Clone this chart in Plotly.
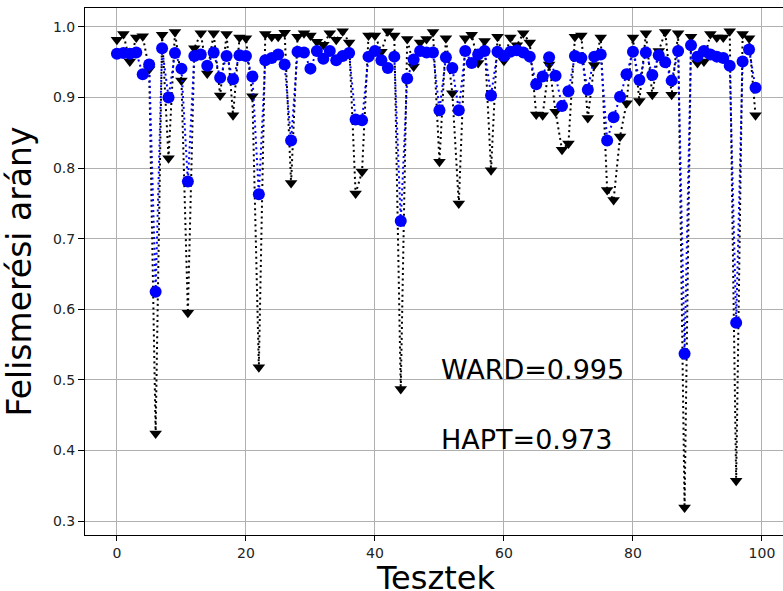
import plotly.graph_objects as go

tests = list(range(100))

hapt = [0.962, 0.963, 0.962, 0.964, 0.933, 0.947, 0.625, 0.970, 0.900, 0.963,
        0.941, 0.781, 0.959, 0.961, 0.945, 0.964, 0.928, 0.959, 0.926, 0.960,
        0.959, 0.930, 0.763, 0.953, 0.956, 0.961, 0.947, 0.839, 0.965, 0.964,
        0.941, 0.966, 0.955, 0.966, 0.953, 0.959, 0.963, 0.869, 0.868, 0.958,
        0.966, 0.953, 0.942, 0.958, 0.725, 0.927, 0.954, 0.966, 0.964, 0.964,
        0.882, 0.957, 0.942, 0.882, 0.966, 0.949, 0.961, 0.966, 0.903, 0.965,
        0.959, 0.965, 0.967, 0.964, 0.958, 0.919, 0.930, 0.957, 0.931, 0.888,
        0.909, 0.959, 0.956, 0.911, 0.958, 0.961, 0.839, 0.872, 0.901, 0.933,
        0.965, 0.925, 0.964, 0.932, 0.960, 0.950, 0.924, 0.966, 0.537, 0.974,
        0.958, 0.966, 0.961, 0.958, 0.956, 0.945, 0.581, 0.951, 0.968, 0.914]

ward = [0.982, 0.990, 0.951, 0.985, 0.987, 0.940, 0.424, 0.989, 0.814, 0.993,
        0.924, 0.595, 0.970, 0.991, 0.934, 0.991, 0.903, 0.990, 0.875, 0.985,
        0.984, 0.902, 0.518, 0.990, 0.986, 0.986, 0.992, 0.779, 0.986, 0.991,
        0.988, 0.979, 0.975, 0.991, 0.982, 0.994, 0.978, 0.764, 0.795, 0.988,
        0.988, 0.965, 0.994, 0.988, 0.487, 0.983, 0.944, 0.978, 0.983, 0.993,
        0.809, 0.984, 0.906, 0.750, 0.984, 0.989, 0.949, 0.980, 0.797, 0.986,
        0.952, 0.985, 0.974, 0.991, 0.978, 0.876, 0.875, 0.947, 0.880, 0.826,
        0.835, 0.986, 0.988, 0.871, 0.946, 0.985, 0.769, 0.755, 0.845, 0.892,
        0.985, 0.895, 0.991, 0.904, 0.966, 0.993, 0.904, 0.991, 0.319, 0.986,
        0.949, 0.951, 0.990, 0.985, 0.985, 0.994, 0.357, 0.990, 0.984, 0.875]

labels = ["WARD=0.995", "HAPT=0.973"]
label_x = [50, 50]
label_y = [0.5, 0.4]

x_ticks = [0, 20, 40, 60, 80, 100]
y_ticks = [0.3, 0.4, 0.5, 0.6, 0.7, 0.8, 0.9, 1.0]

x_title = "Tesztek"
y_title = "Felismerési arány"

FONT = "DejaVu Sans"

fig = go.Figure()
fig.add_trace(go.Scatter(
    x=tests, y=ward, mode="lines+markers",
    line=dict(color="black", width=2, dash="2px,3.4px"),
    marker=dict(symbol="triangle-down", size=11, color="black"),
    showlegend=False))
fig.add_trace(go.Scatter(
    x=tests, y=hapt, mode="lines+markers",
    line=dict(color="blue", width=2, dash="2px,3.4px"),
    marker=dict(symbol="circle", size=12, color="blue"),
    showlegend=False))

for t, xx, yy in zip(labels, label_x, label_y):
    fig.add_annotation(x=xx, y=yy, text=t, showarrow=False,
                       xanchor="left", yanchor="bottom", yshift=-7,
                       font=dict(family=FONT, size=27, color="black"))

# x-axis title placed as a text annotation for exact vertical position
fig.add_annotation(x=0.503, y=0, xref="paper", yref="paper", text=x_title,
                   showarrow=False, xanchor="center", yanchor="top", yshift=-22,
                   font=dict(family=FONT, size=32, color="black"))

fig.update_layout(
    width=783, height=591,
    margin=dict(l=85, r=0, t=8, b=56),
    paper_bgcolor="white", plot_bgcolor="white",
    font=dict(family=FONT, color="black"),
)
fig.update_xaxes(
    range=[-4.95, 103.26], tickvals=x_ticks,
    showgrid=True, gridcolor="#b0b0b0", gridwidth=1,
    showline=True, linecolor="black", linewidth=1, mirror=True,
    ticks="outside", ticklen=5, tickcolor="black",
    tickfont=dict(family=FONT, size=14, color="#222"),
    zeroline=False,
)
fig.update_yaxes(
    range=[0.2802, 1.0269], tickvals=y_ticks,
    ticktext=[f"{v:.1f}" for v in y_ticks],
    showgrid=True, gridcolor="#b0b0b0", gridwidth=1,
    showline=True, linecolor="black", linewidth=1, mirror=False,
    ticks="outside", ticklen=6, tickcolor="black",
    tickfont=dict(family=FONT, size=14, color="#222"),
    zeroline=False,
    title=dict(text=y_title, font=dict(family=FONT, size=33, color="black"), standoff=16),
)

fig.write_html("out.html")
